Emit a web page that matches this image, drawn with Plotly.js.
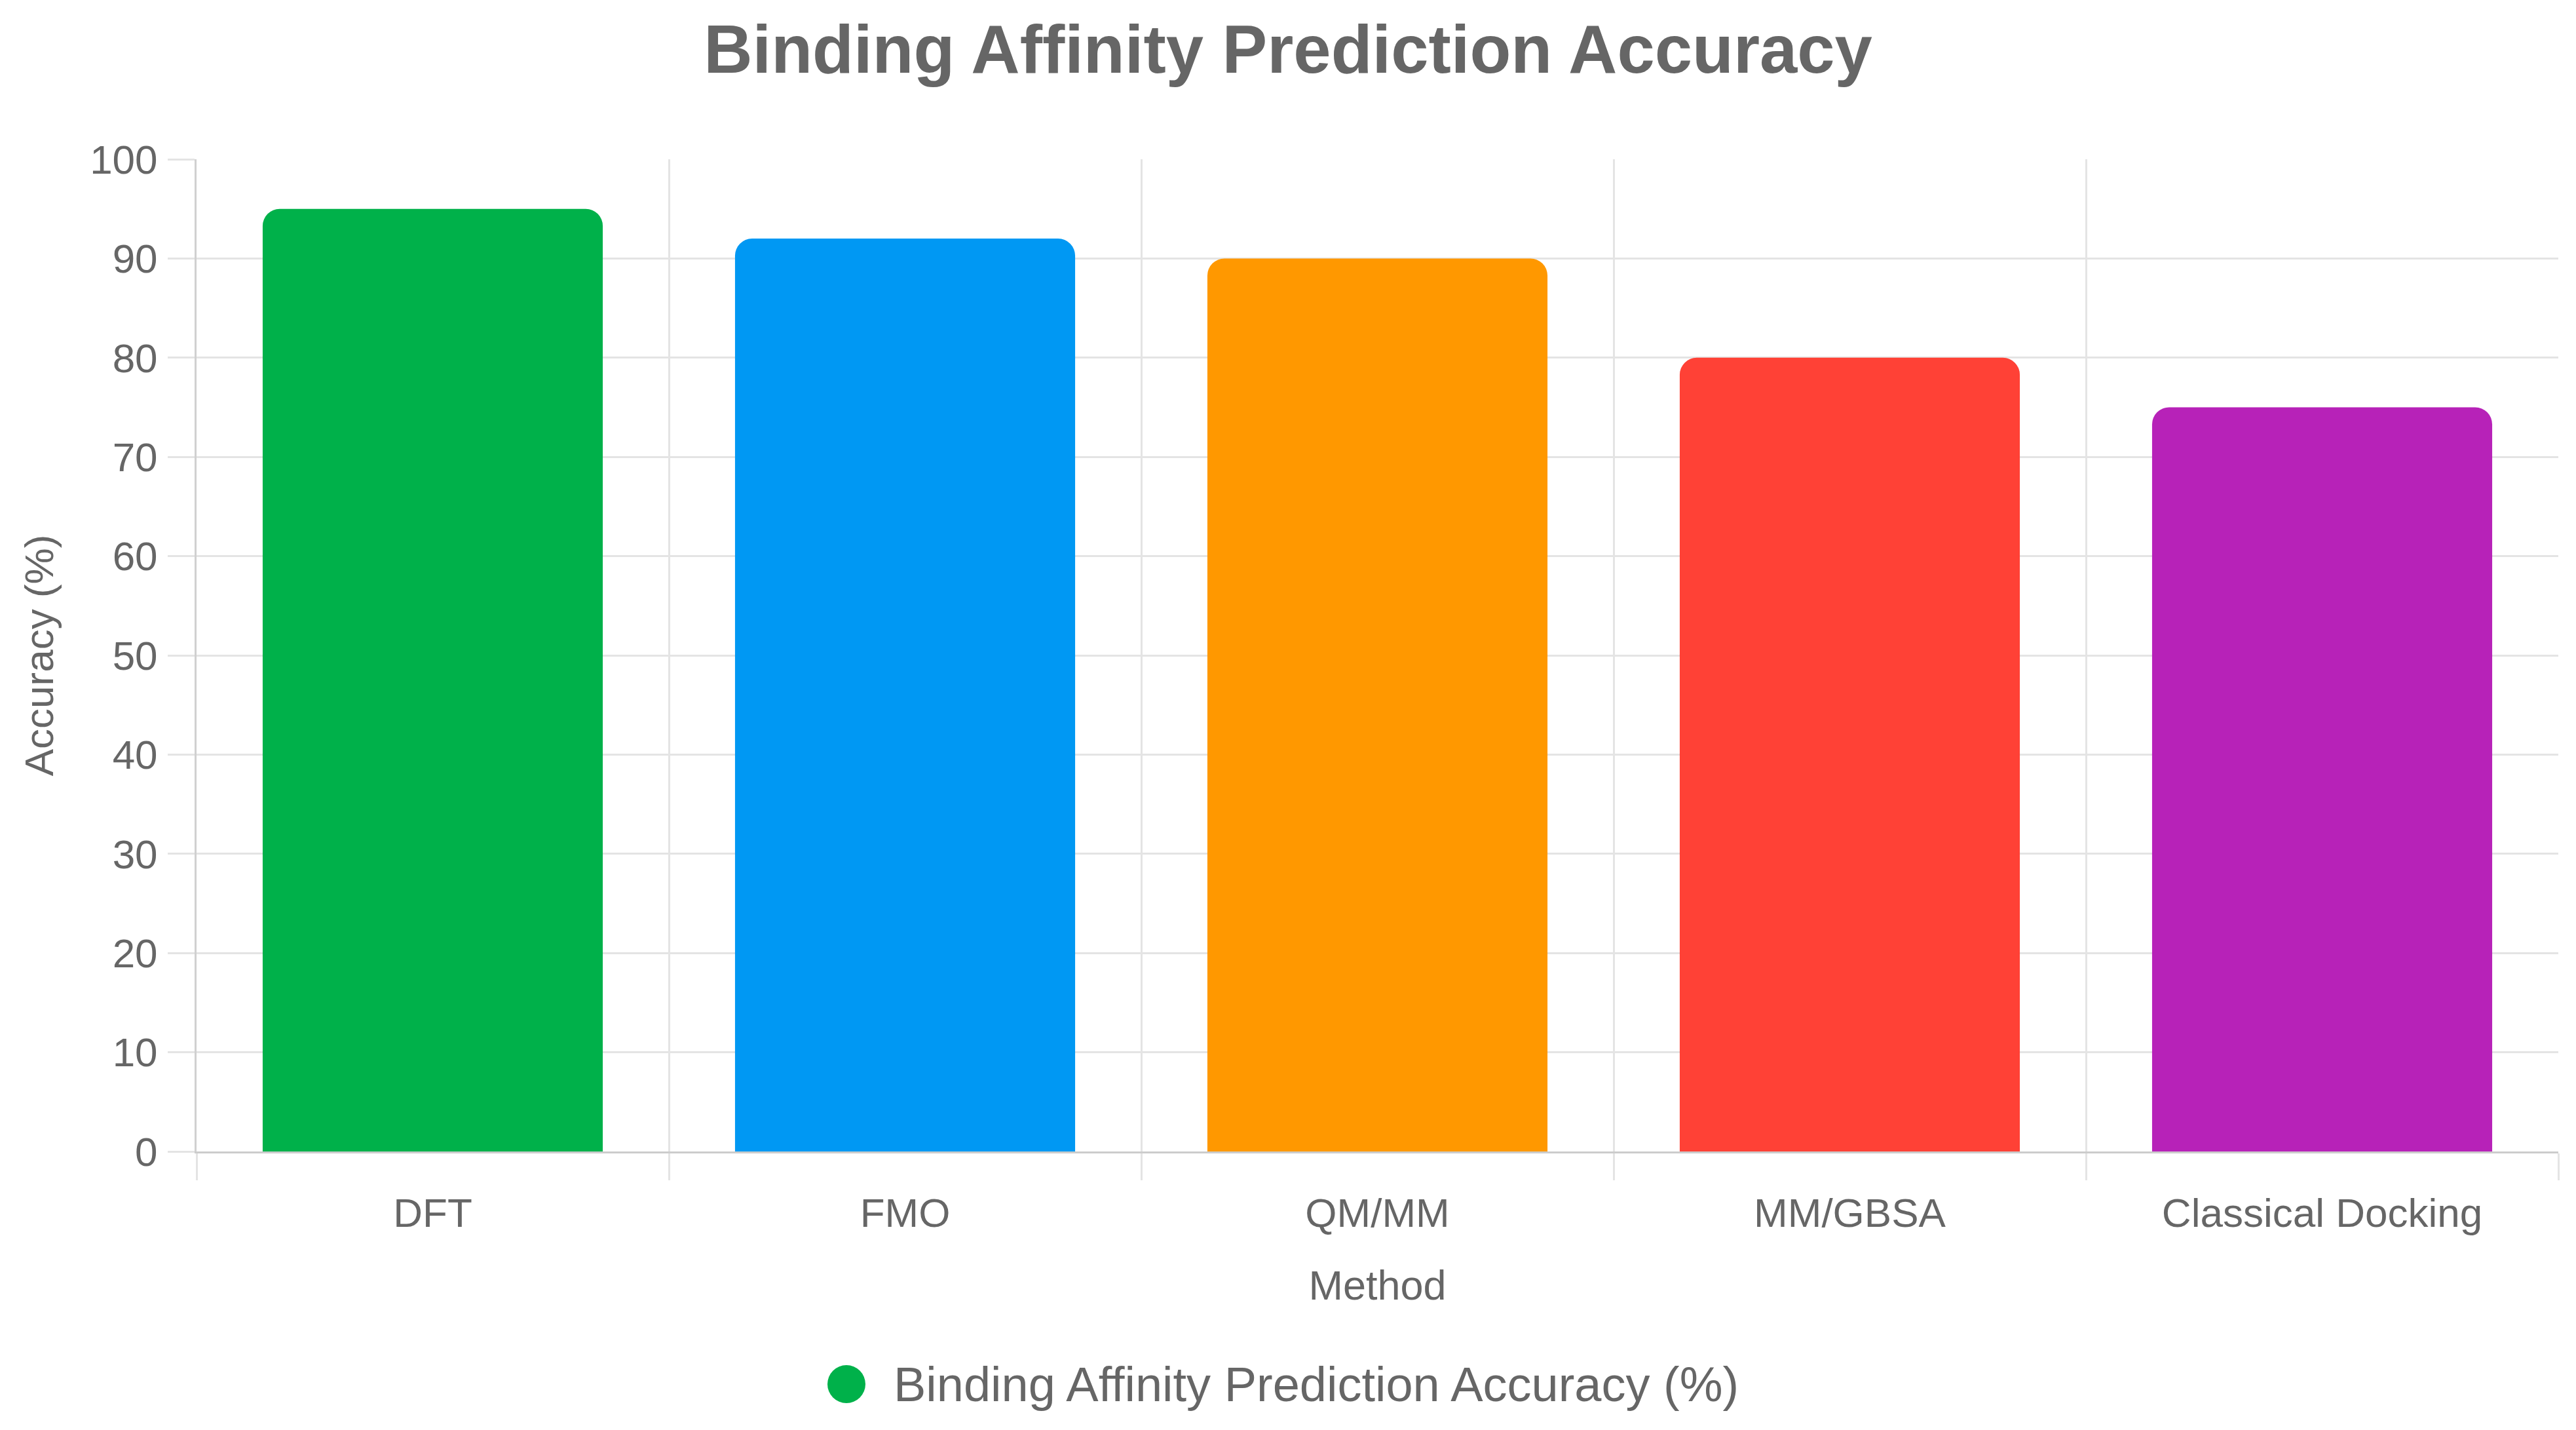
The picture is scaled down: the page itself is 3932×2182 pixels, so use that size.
<!DOCTYPE html>
<html>
<head>
<meta charset="utf-8">
<script src="https://cdn.plot.ly/plotly-3.0.1.min.js"></script>
<style>
  html, body { margin: 0; padding: 0; background: #fff; }
  #chart { width: 3932px; height: 2182px; }
</style>
</head>
<body>
<div id="chart"></div>
<script>
// data
const methods = ["DFT", "FMO", "QM/MM", "MM/GBSA", "Classical Docking"];
const accuracy = [95, 92, 90, 80, 75];
const barColors = ["#00B14A", "#0098F3", "#FF9800", "#FF4136", "#B722B8"];
const seriesName = "Binding Affinity Prediction Accuracy (%)";

const textColor = "#666666";
const gridColor = "#e4e4e4";
const fontFamily = "'Liberation Sans', Arial, Helvetica, sans-serif";

function drawChart() {
  let data = [{
    x: methods,
    y: accuracy,
    type: "bar",
    name: seriesName,
    marker: { color: barColors, cornerradius: 26 },
    showlegend: false,
    hoverinfo: "x+y"
  }];

  let layout = {
    width: 3932,
    height: 2182,
    paper_bgcolor: "#ffffff",
    plot_bgcolor: "#ffffff",
    font: { family: fontFamily, color: textColor, size: 62 },
    margin: { l: 300, r: 27, t: 243, b: 425 },
    bargap: 0.28,
    showlegend: false,
    title: {
      text: "<b>Binding Affinity Prediction Accuracy</b>",
      font: { size: 103, color: textColor, family: fontFamily },
      x: 0.5,
      xanchor: "center",
      y: 1 - 75 / 2182,
      yref: "container",
      yanchor: "middle"
    },
    xaxis: {
      type: "category",
      tickson: "boundaries",
      showgrid: true,
      gridcolor: gridColor,
      gridwidth: 3,
      showline: true,
      linecolor: "#cccccc",
      linewidth: 3,
      ticks: "outside",
      ticklen: 41,
      tickwidth: 3,
      tickcolor: gridColor,
      ticklabelstandoff: 38,
      tickfont: { size: 62, color: textColor },
      automargin: true,
      title: { text: "Method", font: { size: 63, color: textColor }, standoff: 55 }
    },
    yaxis: {
      range: [0, 100],
      dtick: 10,
      showgrid: true,
      gridcolor: gridColor,
      gridwidth: 3,
      zeroline: false,
      showline: true,
      linecolor: "#d0d0d0",
      linewidth: 3,
      ticks: "outside",
      ticklen: 41,
      tickwidth: 3,
      tickcolor: gridColor,
      ticklabelstandoff: 3,
      tickfont: { size: 62, color: textColor },
      automargin: true,
      title: { text: "Accuracy (%)", font: { size: 62, color: textColor }, standoff: 36 }
    },
    // legend drawn by hand so the round marker can be as big as in the reference
    shapes: [{
      type: "circle",
      xref: "paper", yref: "paper",
      xsizemode: "pixel", ysizemode: "pixel",
      xanchor: (1292 - 300) / 3605, yanchor: (1757 - 2112) / 1514,
      x0: -29, x1: 29, y0: -29, y1: 29,
      fillcolor: barColors[0],
      line: { width: 0 }
    }],
    annotations: [{
      text: seriesName,
      xref: "paper", yref: "paper",
      x: (1362 - 300) / 3605, y: (1757 - 2112) / 1514,
      xanchor: "left", yanchor: "middle",
      showarrow: false,
      font: { size: 74, color: textColor }
    }]
  };

  Plotly.newPlot("chart", data, layout, { displayModeBar: false, staticPlot: true });
}

drawChart();
</script>
</body>
</html>
